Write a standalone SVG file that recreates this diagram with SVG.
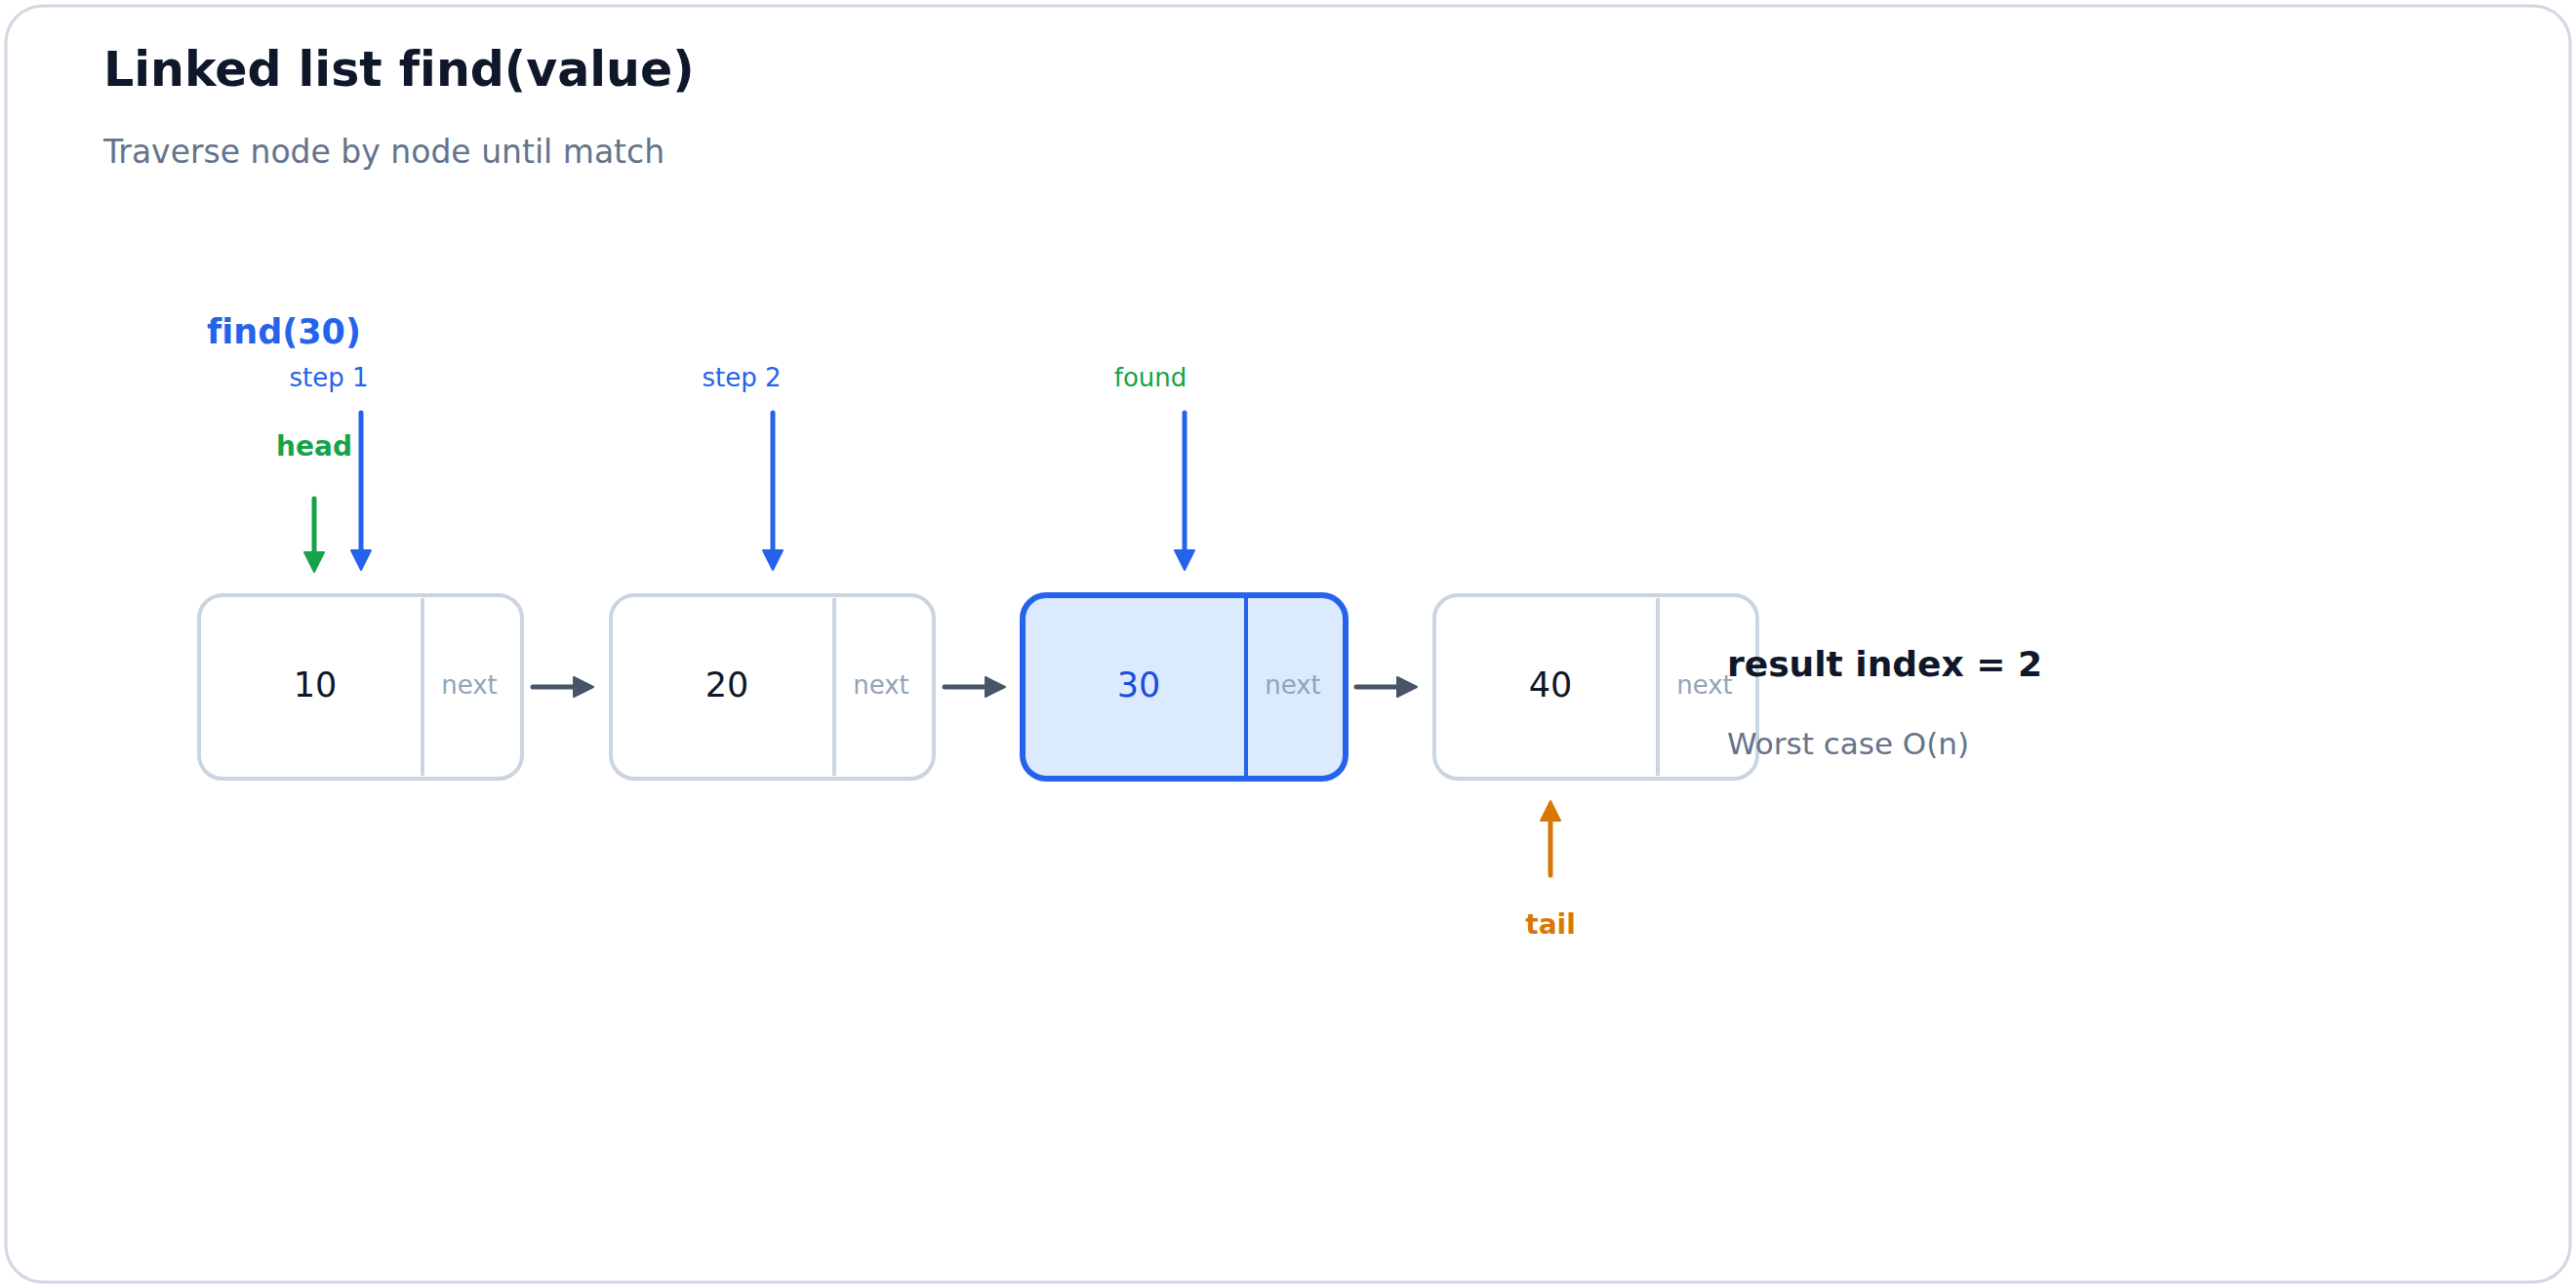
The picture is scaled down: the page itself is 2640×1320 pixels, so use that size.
<svg xmlns="http://www.w3.org/2000/svg" width="2640" height="1320" viewBox="0 0 2640 1320">
<style>
text{font-family:"DejaVu Sans","Liberation Sans",sans-serif;font-variant-ligatures:none}
.title{font-size:49px;font-weight:bold;fill:#0f172a}
.sub{font-size:33px;fill:#64748b}
.box{fill:#ffffff;stroke:#cbd5e1;stroke-width:4}
.div{stroke:#cbd5e1;stroke-width:4}
.val{font-size:35px;fill:#0f172a;text-anchor:middle}
.nxt{font-size:26px;fill:#94a3b8;text-anchor:middle}
.step{font-size:26px;fill:#2563eb;text-anchor:middle}
.ptr{stroke-width:5;stroke-linecap:round;fill:none}
</style>
<defs>
<marker id="ah-blue" markerUnits="userSpaceOnUse" markerWidth="24" markerHeight="24" viewBox="0 0 24 24" refX="12" refY="12" orient="auto"><path d="M2,2 L22,12 L2,22 Z" fill="#2563eb" stroke="#2563eb" stroke-width="2" stroke-linejoin="round"/></marker>
<marker id="ah-green" markerUnits="userSpaceOnUse" markerWidth="24" markerHeight="24" viewBox="0 0 24 24" refX="12" refY="12" orient="auto"><path d="M2,2 L22,12 L2,22 Z" fill="#16a34a" stroke="#16a34a" stroke-width="2" stroke-linejoin="round"/></marker>
<marker id="ah-orange" markerUnits="userSpaceOnUse" markerWidth="24" markerHeight="24" viewBox="0 0 24 24" refX="12" refY="12" orient="auto"><path d="M2,2 L22,12 L2,22 Z" fill="#d97706" stroke="#d97706" stroke-width="2" stroke-linejoin="round"/></marker>
<marker id="ah-dark" markerUnits="userSpaceOnUse" markerWidth="24" markerHeight="24" viewBox="0 0 24 24" refX="12" refY="12" orient="auto"><path d="M2,2 L22,12 L2,22 Z" fill="#475569" stroke="#475569" stroke-width="2" stroke-linejoin="round"/></marker>
</defs>
<rect x="6" y="6" width="2628" height="1308" rx="38" fill="#ffffff" stroke="#cfd8e3" stroke-width="3"/>
<text class="title" x="106" y="88">Linked list find(value)</text>
<text class="sub" x="106" y="167">Traverse node by node until match</text>
<text x="212" y="352" font-size="35" font-weight="bold" fill="#2563eb">find(30)</text>

<g id="node-10">
<rect class="box" x="204" y="610" width="331" height="188" rx="24"/>
<line class="div" x1="433" y1="613" x2="433" y2="795"/>
<text class="val" x="323" y="714">10</text>
<text class="nxt" x="481" y="711">next</text>
</g>
<g id="node-20">
<rect class="box" x="626" y="610" width="331" height="188" rx="24"/>
<line class="div" x1="855" y1="613" x2="855" y2="795"/>
<text class="val" x="745" y="714">20</text>
<text class="nxt" x="903" y="711">next</text>
</g>
<g id="node-30">
<rect x="1048" y="610" width="331" height="188" rx="24" fill="#dbeafe" stroke="#2563eb" stroke-width="6"/>
<line x1="1277" y1="613" x2="1277" y2="795" stroke="#2563eb" stroke-width="4"/>
<text class="val" x="1167" y="714" style="fill:#1d4ed8">30</text>
<text class="nxt" x="1325" y="711">next</text>
</g>
<g id="node-40">
<rect class="box" x="1470" y="610" width="331" height="188" rx="24"/>
<line class="div" x1="1699" y1="613" x2="1699" y2="795"/>
<text class="val" x="1589" y="714">40</text>
<text class="nxt" x="1747" y="711">next</text>
</g>

<g id="connectors">
<line class="ptr" stroke="#475569" x1="546" y1="704" x2="598" y2="704" marker-end="url(#ah-dark)"/>
<line class="ptr" stroke="#475569" x1="968" y1="704" x2="1020" y2="704" marker-end="url(#ah-dark)"/>
<line class="ptr" stroke="#475569" x1="1390" y1="704" x2="1442" y2="704" marker-end="url(#ah-dark)"/>
<line class="ptr" stroke="#16a34a" x1="322" y1="511" x2="322" y2="576" marker-end="url(#ah-green)"/>
<line class="ptr" stroke="#2563eb" x1="370" y1="423" x2="370" y2="574" marker-end="url(#ah-blue)"/>
<line class="ptr" stroke="#2563eb" x1="792" y1="423" x2="792" y2="574" marker-end="url(#ah-blue)"/>
<line class="ptr" stroke="#2563eb" x1="1214" y1="423" x2="1214" y2="574" marker-end="url(#ah-blue)"/>
<line class="ptr" stroke="#d97706" x1="1589" y1="897" x2="1589" y2="831" marker-end="url(#ah-orange)"/>
</g>

<text x="322" y="467" font-size="28" font-weight="bold" fill="#16a34a" text-anchor="middle">head</text>
<text class="step" x="337" y="396">step 1</text>
<text class="step" x="760" y="396">step 2</text>
<text class="step" x="1179" y="396" style="fill:#16a34a">found</text>
<text x="1589" y="957" font-size="28" font-weight="bold" fill="#d97706" text-anchor="middle">tail</text>
<text x="1770" y="693" font-size="36" font-weight="bold" fill="#0f172a">result index = 2</text>
<text x="1770" y="773" font-size="31" fill="#64748b">Worst case O(n)</text>
</svg>
